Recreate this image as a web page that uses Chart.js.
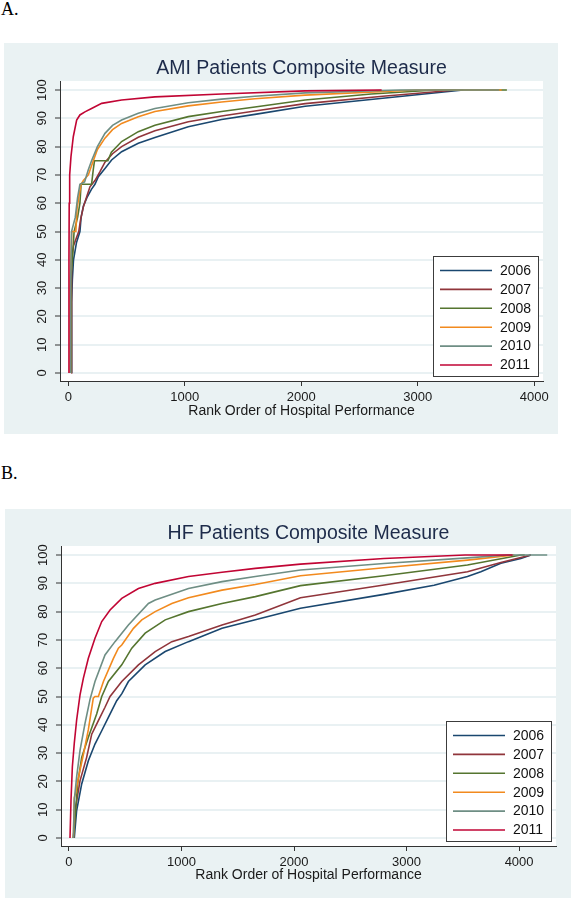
<!DOCTYPE html>
<html>
<head>
<meta charset="utf-8">
<script src="https://cdn.jsdelivr.net/npm/chart.js@4.4.1/dist/chart.umd.min.js"></script>
<style>
  body { margin: 0; background: #fff; width: 571px; height: 900px; position: relative; overflow: hidden; }
  .lbl { position: absolute; font-family: "Liberation Serif", "Times New Roman", serif; font-size: 18px; line-height: 18px; color: #000; }
  canvas { position: absolute; display: block; }
</style>
</head>
<body>
<div class="lbl" style="left:1px; top:0px">A.</div>
<div class="lbl" style="left:1px; top:464px">B.</div>
<canvas id="ami" width="554" height="391" style="left:4px; top:43px"></canvas>
<canvas id="hf" width="566" height="389" style="left:5px; top:509px"></canvas>
<script>
const years = ["2006", "2007", "2008", "2009", "2010", "2011"];
const lineColors = ["#1a476f", "#90353b", "#55752f", "#f28a1e", "#6e8e84", "#c10534"];
const xTicks = [0, 1000, 2000, 3000, 4000];
const yTicks = [0, 10, 20, 30, 40, 50, 60, 70, 80, 90, 100];

// AMI: [rank, composite score]
const ami2006 = [[29,0],[29,25],[35,33],[45,40],[70,46],[100,50],[110,55],[130,59],[160,62],[200,65],[229,66.7],[258,69.4],[315,72.3],[372,75.3],[458,78.2],[601,81.2],[744,83.2],[1030,87],[1316,89.6],[1602,91.4],[2033,94.3],[2700,97.1],[3390,100]];
const ami2007 = [[25,0],[25,30],[32,40],[45,45],[90,50],[105,54],[130,58.8],[158,62.3],[186,65.8],[229,68],[270,71],[315,74.5],[380,77.5],[458,80],[601,83.3],[744,85.6],[1030,88.8],[1316,90.8],[1602,92.6],[2033,95.2],[2700,97.8],[3330,100]];
const ami2008 = [[22,0],[22,33.3],[35,40],[50,50],[80,55],[100,60],[110,66.7],[200,66.7],[215,72],[225,75],[340,75],[370,78],[458,81.8],[601,85.3],[744,87.6],[1030,90.6],[1316,92.4],[1602,94],[2033,96.5],[2600,98.6],[3150,100],[3765,100]];
const ami2009 = [[18,0],[18,33.3],[30,50],[65,50],[75,58],[90,62],[110,66.7],[130,68],[172,70],[215,75],[250,79],[315,83],[380,86],[458,88.2],[601,90.6],[744,92.4],[1030,94.4],[1316,95.8],[1602,96.9],[2033,98.2],[2990,100],[3720,100]];
const ami2010 = [[20,0],[20,30],[28,50],[60,55],[80,62],[100,66.7],[140,67.5],[172,71.8],[200,75],[250,80],[315,84.7],[380,87.5],[458,89.4],[601,91.8],[744,93.5],[1030,95.5],[1316,96.8],[1602,97.8],[2033,99],[2850,100],[3700,100]];
const ami2011 = [[6,0],[6,40],[8,60],[12,70],[23,76.4],[43,83.5],[72,89.4],[100,91.2],[143,92.3],[200,93.5],[287,95.3],[458,96.5],[744,97.6],[1316,98.6],[2033,99.7],[2690,100]];

// HF: [rank, composite score]
const hf2006 = [[47,0],[68,9.7],[113,19.1],[172,27.3],[231,33.2],[291,37.9],[350,42.6],[424,48.5],[470,51],[528,55.3],[677,61.2],[855,65.9],[1062,69.4],[1360,74.1],[1656,77.1],[2057,81.2],[2799,86.1],[3244,89.3],[3541,92.4],[3660,94.1],[3838,97.1],[4016,98.8],[4105,100]];
const hf2007 = [[39,0],[59,10.8],[98,20.2],[157,28.5],[202,36.7],[261,41.5],[320,46.2],[365,50],[469,55.3],[617,61.2],[766,65.9],[914,69.4],[1062,71.2],[1360,75.3],[1656,78.8],[2057,84.9],[2799,89.4],[3541,94.1],[3838,97.4],[4105,100]];
const hf2008 = [[39,0],[59,9.7],[77,19.1],[113,28.5],[172,35.6],[246,43.8],[291,50],[350,55.3],[469,61.2],[558,67.1],[677,72.4],[855,77.1],[1062,80],[1360,82.9],[1656,85.3],[2057,89.2],[2799,92.7],[3541,96.5],[4016,100],[4050,100]];
const hf2009 = [[39,0],[47,14.2],[59,15.9],[83,21.2],[128,29.5],[172,38.3],[216,49.4],[231,50],[261,50],[306,55.3],[395,63.5],[439,67.1],[469,68.2],[573,74.1],[647,77.1],[766,80],[914,82.9],[1062,84.9],[1360,87.6],[1656,89.6],[2057,92.7],[2799,95.5],[3541,98.2],[3958,100]];
const hf2010 = [[39,0],[47,13.4],[68,21.6],[98,31],[142,40.4],[187,49],[231,55.3],[320,64.7],[409,69.4],[528,75.3],[706,82.9],[766,84.1],[1062,88.2],[1360,90.6],[1656,92.4],[2057,94.7],[2799,97],[3541,99],[3900,100],[4250,100]];
const hf2011 = [[9,0],[18,13.4],[30,25.2],[47,33.5],[68,41.7],[98,50.6],[128,56.5],[172,63.5],[231,70.6],[291,76.5],[365,80.6],[469,84.7],[617,88.2],[766,90],[1062,92.4],[1360,93.9],[1656,95.3],[2057,96.8],[2799,98.8],[3520,100],[3942,100]];

Chart.defaults.font.family = '"Liberation Sans", Arial, sans-serif';
Chart.defaults.color = '#1a1a1a';

// stata-ish light panel + white plot region + title centred on the plot
const panelBg = {
  id: 'panelBg',
  beforeDraw(chart) {
    const { ctx, chartArea: a } = chart;
    ctx.save();
    ctx.fillStyle = '#eaf2f3';
    ctx.fillRect(0, 0, chart.width, chart.height);
    ctx.fillStyle = '#ffffff';
    ctx.fillRect(a.left, a.top, a.right - a.left, a.bottom - a.top);
    const t = chart.options.plugins.panelBg;
    ctx.fillStyle = '#1d2b4a';
    ctx.font = '19.5px "Liberation Sans", Arial, sans-serif';
    ctx.textAlign = 'center';
    ctx.textBaseline = 'middle';
    ctx.fillText(t.text, (a.left + a.right) / 2, t.y);
    ctx.restore();
  }
};

// boxed legend in lower right of plot
const boxLegend = {
  id: 'boxLegend',
  afterDraw(chart) {
    const { ctx, chartArea: a } = chart;
    const w = 106, h = 121;
    const x = a.right - 4 - w, y = a.bottom - 4 - h;
    ctx.save();
    ctx.fillStyle = '#fff';
    ctx.fillRect(x, y, w, h);
    ctx.strokeStyle = '#3c3c3c';
    ctx.lineWidth = 1;
    ctx.strokeRect(x + 0.5, y + 0.5, w - 1, h - 1);
    ctx.font = '14px "Liberation Sans", Arial, sans-serif';
    ctx.textBaseline = 'middle';
    chart.data.datasets.forEach((ds, i) => {
      const cy = y + 14.5 + i * 18.9;
      ctx.strokeStyle = ds.borderColor;
      ctx.lineWidth = 1.6;
      ctx.beginPath();
      ctx.moveTo(x + 7, cy);
      ctx.lineTo(x + 59, cy);
      ctx.stroke();
      ctx.fillStyle = '#111';
      ctx.fillText(ds.label, x + 67, cy + 0.5);
    });
    ctx.restore();
  }
};

function drawPanel(id, title, series, xMax, axisH, plotTop, titleY) {
  new Chart(id, {
    type: 'scatter',
    data: {
      datasets: series.map((pts, i) => ({
        label: years[i],
        data: pts,
        borderColor: lineColors[i],
        backgroundColor: lineColors[i],
        showLine: true,
        pointRadius: 0,
        borderWidth: 1.6,
        order: 6 - i
      }))
    },
    options: {
      responsive: false,
      animation: false,
      layout: { padding: { left: 0, right: 15, top: plotTop, bottom: 0 } },
      plugins: {
        legend: { display: false },
        tooltip: { enabled: false },
        panelBg: { text: title, y: titleY }
      },
      scales: {
        x: {
          type: 'linear', min: -71, max: xMax,
          afterBuildTicks: s => { s.ticks = xTicks.map(v => ({ value: v })); },
          afterFit: s => { s.height = axisH; },
          grid: { drawOnChartArea: false, tickLength: 5, tickColor: '#333', tickWidth: 1 },
          border: { color: '#333', width: 1 },
          ticks: { font: { size: 13, lineHeight: 1 }, color: '#1a1a1a', padding: 4.5, maxRotation: 0, autoSkip: false,
                   callback: v => String(v) },
          title: {
            display: true, text: 'Rank Order of Hospital Performance', color: '#1a1a1a',
            font: { size: 14, lineHeight: 1 }, padding: { top: 0, bottom: 16 }
          }
        },
        y: {
          type: 'linear', min: -2.83, max: 103.2,
          afterBuildTicks: s => { s.ticks = yTicks.map(v => ({ value: v })); },
          afterFit: s => { s.width = 56; },
          grid: { color: '#e9f1f3', lineWidth: 2, tickLength: 5, tickColor: '#333', tickWidth: 1 },
          border: { color: '#333', width: 1 },
          ticks: { font: { size: 13 }, color: '#1a1a1a', minRotation: 90, maxRotation: 90, crossAlign: 'center', padding: 1.7,
                   callback: v => String(v) }
        }
      }
    },
    plugins: [panelBg, boxLegend]
  });
}

drawPanel('ami', 'AMI Patients Composite Measure', [ami2006, ami2007, ami2008, ami2009, ami2010, ami2011], 4075, 53, 38, 26);
drawPanel('hf', 'HF Patients Composite Measure', [hf2006, hf2007, hf2008, hf2009, hf2010, hf2011], 4328, 52, 37, 25);
</script>
</body>
</html>
